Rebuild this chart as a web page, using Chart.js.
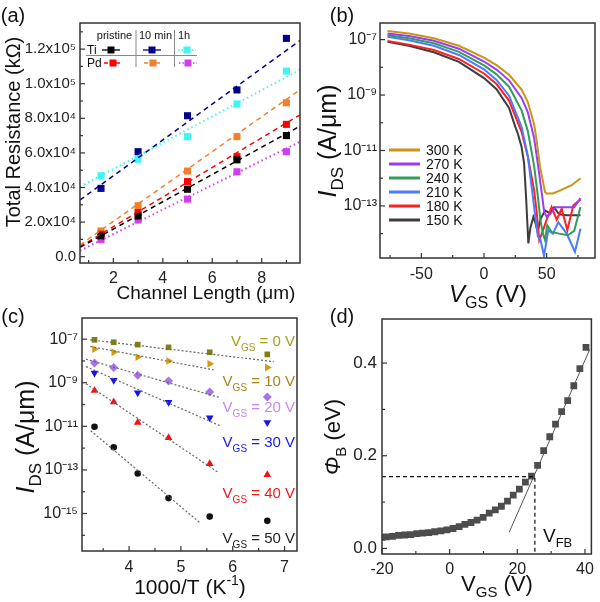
<!DOCTYPE html>
<html>
<head>
<meta charset="utf-8">
<script src="https://cdn.jsdelivr.net/npm/chart.js@4.4.1/dist/chart.umd.min.js"></script>
<style>
  body { margin: 0; background: #fff; }
  #fig { position: relative; width: 600px; height: 602px; }
  #fig canvas { position: absolute; left: 0; top: 0; }
</style>
</head>
<body>
<div id="fig">
  <canvas id="chartA" width="600" height="602"></canvas>
  <canvas id="chartB" width="600" height="602"></canvas>
  <canvas id="chartC" width="600" height="602"></canvas>
  <canvas id="chartD" width="600" height="602"></canvas>
</div>
<script>
const FONT = "'Liberation Sans', Arial, sans-serif";

// (a) total resistance vs channel length
const channelLength = [1.5, 3, 5, 7, 9];
const tiPristine = [12000, 23500, 39000, 56000, 70000];
const ti10min = [39500, 60700, 81500, 96400, 126200];
const ti1h = [46800, 56300, 69400, 88300, 107300];
const pdPristine = [13000, 25500, 43400, 57800, 76500];
const pd10min = [14900, 29500, 49500, 69400, 89000];
const pd1h = [10000, 21200, 33300, 49100, 60700];
const fitLengthA = [0.65, 9.55];
const fitTiPristine = [5400, 75500];
const fitTi10min = [32800, 125000];
const fitTi1h = [40500, 108000];
const fitPdPristine = [5800, 82000];
const fitPd10min = [6800, 96500];
const fitPd1h = [3500, 66500];
const xTicksA = [2, 4, 6, 8];
const xMinorA = [1, 3, 5, 7, 9];
const yTicksA = [0, 20000, 40000, 60000, 80000, 100000, 120000];
const yLabelsA = ['0.0', '2.0x10⁴', '4.0x10⁴', '6.0x10⁴', '8.0x10⁴', '1.0x10⁵', '1.2x10⁵'];
const yMinorA = [10000, 30000, 50000, 70000, 90000, 110000, 130000];

// (b) transfer curves at several temperatures
const tempLabels = ['300 K', '270 K', '240 K', '210 K', '180 K', '150 K'];
const vgs300 = [-77, -60, -40, -20, 0, 10, 20, 30, 35, 40, 42, 44.7, 47, 48.7, 50, 55, 60, 70, 77];
const ids300 = [2.04e-7, 1.66e-7, 1.12e-7, 6.0e-8, 2.24e-8, 1.2e-8, 5.4e-9, 1.58e-9, 5.6e-10, 8.9e-11, 2.3e-11, 2.6e-12, 7.9e-13, 3.2e-13, 2.8e-13, 2.8e-13, 3.5e-13, 5.6e-13, 1.0e-12];
const vgs270 = [-77, -60, -40, -20, 0, 10, 20, 30, 35, 40, 43, 46, 48, 50, 53, 57, 65, 72, 77];
const ids270 = [1.66e-7, 1.35e-7, 9.1e-8, 4.7e-8, 1.62e-8, 8.3e-9, 3.4e-9, 7.9e-10, 2.4e-10, 2.8e-11, 3.2e-12, 3.2e-13, 6.3e-14, 4.0e-14, 5.2e-14, 8.9e-14, 8.9e-14, 8.9e-14, 1.9e-13];
const vgs240 = [-77, -60, -40, -20, 0, 10, 20, 30, 35, 40, 43, 45, 47, 48.7, 50.5, 54, 60, 67, 72, 77];
const ids240 = [1.45e-7, 1.12e-7, 7.4e-8, 3.6e-8, 1.17e-8, 5.6e-9, 2.0e-9, 2.8e-10, 5.0e-11, 2.8e-12, 2.2e-13, 3.2e-14, 1.0e-14, 5.8e-15, 2.0e-14, 1.15e-14, 1.0e-14, 8.7e-15, 1.26e-14, 9.1e-14];
const vgs210 = [-77, -60, -40, -20, 0, 10, 20, 30, 35, 38, 41, 43, 45, 47.9, 51.3, 55, 59.3, 66, 72.6, 77];
const ids210 = [1.26e-7, 9.5e-8, 6.0e-8, 2.8e-8, 8.5e-9, 3.5e-9, 9.5e-10, 7.1e-11, 6.3e-12, 5.0e-13, 4.0e-14, 7.9e-15, 6.3e-15, 1.58e-15, 1.32e-14, 1.0e-14, 2.6e-14, 1.0e-14, 2.2e-15, 1.5e-14];
const vgs180 = [-77, -60, -40, -20, 0, 10, 20, 30, 35, 40, 42, 44.1, 47, 50, 54, 58, 62, 66.5, 71.3, 77];
const ids180 = [8.9e-8, 6.6e-8, 4.2e-8, 2.0e-8, 6.0e-9, 2.5e-9, 6.3e-10, 4.7e-11, 5.9e-12, 3.7e-13, 6.3e-14, 5.8e-15, 1.26e-14, 3.2e-14, 9.1e-14, 3.2e-14, 7.9e-14, 1.32e-14, 1.05e-13, 1.7e-13];
const vgs150 = [-77, -60, -40, -20, 0, 10, 20, 25, 27, 30, 32, 33.5, 35.4, 37, 39.4, 41, 42.8, 45, 48.7, 52, 56, 60, 66, 72, 77];
const ids150 = [8.3e-8, 6.0e-8, 3.5e-8, 1.58e-8, 4.1e-9, 1.62e-9, 3.4e-10, 7.1e-11, 4.1e-11, 1.35e-11, 3.4e-12, 2.5e-13, 4.4e-15, 1.58e-14, 4.0e-14, 2.5e-14, 1.15e-14, 3.2e-14, 6.9e-14, 5.6e-14, 8.9e-14, 5.0e-14, 4.6e-14, 4.6e-14, 4.6e-14];
const xTicksB = [-50, 0, 50];
const xMinorB = [-75, -25, 25, 75];
const yTicksB = [1e-7, 1e-9, 1e-11, 1e-13];
const yLabelsB = ['10⁻⁷', '10⁻⁹', '10⁻¹¹', '10⁻¹³'];
const yMinorB = [1e-8, 1e-10, 1e-12, 1e-14];

// (c) Arrhenius plot
const invTemp = [3.333, 3.704, 4.167, 4.762, 5.556, 6.667];
const idsVgs0 = [9.3e-8, 7.2e-8, 5.6e-8, 4.2e-8, 2.5e-8, 2.0e-8];
const idsVgs10 = [3.5e-8, 2.5e-8, 1.5e-8, 1.0e-8, 7.4e-9, 5.0e-9];
const idsVgs20 = [8.1e-9, 5.0e-9, 2.2e-9, 1.2e-9, 3.8e-10, 2.2e-10];
const idsVgs30 = [2.8e-9, 1.3e-9, 3.5e-10, 1.26e-10, 2.5e-11, 1.5e-11];
const idsVgs40 = [4.4e-10, 1.3e-10, 1.5e-11, 3.0e-12, 1.9e-13, 6.0e-14];
const idsVgs50 = [9.5e-12, 1.1e-12, 6.9e-14, 5.1e-15, 7.2e-16, 4.6e-16];
const fitInvT0 = [3.25, 6.79], fitIds0 = [9.3e-8, 9.3e-9];
const fitInvT10 = [3.25, 5.63], fitIds10 = [4.6e-8, 3.9e-9];
const fitInvT20 = [3.17, 5.75], fitIds20 = [1.2e-8, 2.1e-10];
const fitInvT30 = [3.17, 5.76], fitIds30 = [5.5e-9, 1.05e-11];
const fitInvT40 = [3.17, 5.73], fitIds40 = [8.9e-10, 7.4e-14];
const fitInvT50 = [3.26, 5.37], fitIds50 = [6.3e-12, 3.7e-16];
const vgsLabelsC = ['0', '10', '20', '30', '40', '50'];
const xTicksC = [4, 5, 6, 7];
const xMinorC = [3.5, 4.5, 5.5, 6.5];
const yTicksC = [1e-7, 1e-9, 1e-11, 1e-13, 1e-15];
const yLabelsC = ['10⁻⁷', '10⁻⁹', '10⁻¹¹', '10⁻¹³', '10⁻¹⁵'];
const yMinorC = [1e-8, 1e-10, 1e-12, 1e-14, 1e-16];

// (d) barrier height vs gate voltage
const vgsD = [-20, -18.7, -16.9, -15.1, -13.3, -11.5, -9.7, -8.0, -6.2, -4.4, -2.6, -0.8, 1.0, 2.8, 4.5, 6.3, 8.1, 9.9, 11.7, 13.5, 15.3, 17.1, 18.8, 20.6, 22.4, 24.2, 26.0, 27.8, 29.6, 31.3, 33.1, 34.9, 36.7, 38.5, 40.3];
const phiB = [0.024, 0.025, 0.026, 0.028, 0.029, 0.030, 0.032, 0.033, 0.034, 0.036, 0.038, 0.040, 0.043, 0.047, 0.052, 0.056, 0.061, 0.067, 0.076, 0.083, 0.091, 0.102, 0.115, 0.128, 0.143, 0.156, 0.179, 0.211, 0.241, 0.268, 0.295, 0.319, 0.351, 0.388, 0.434];
const fitVgsD = [17.6, 41.4], fitPhiD = [0.035, 0.429];
const flatBandX = [-20, 25.2, 25.2], flatBandY = [0.155, 0.155, -0.012];
const xTicksD = [-20, 0, 20, 40];
const xMinorD = [-10, 10, 30];
const yTicksD = [0, 0.2, 0.4];
const yLabelsD = ['0.0', '0.2', '0.4'];
const yMinorD = [0.1, 0.3];

const pts = (xs, ys) => xs.map((x, i) => ({ x: x, y: ys[i] }));

// text with italic / sub / sup parts, (x,y) = centre of the capitals
function rich(ctx, parts, x, y, size, align, vertical, color) {
  ctx.save();
  ctx.translate(x, y);
  if (vertical) ctx.rotate(-Math.PI / 2);
  ctx.fillStyle = color || '#111';
  ctx.textAlign = 'left';
  ctx.textBaseline = 'alphabetic';
  const fontOf = p => (p.i ? 'italic ' : '') + Math.round(p.s ? size * 0.66 : size) + 'px ' + FONT;
  let w = 0;
  parts.forEach(p => { ctx.font = fontOf(p); w += ctx.measureText(p.t).width; });
  let cx = align === 'center' ? -w / 2 : align === 'right' ? -w : 0;
  parts.forEach(p => {
    ctx.font = fontOf(p);
    const dy = p.s === 'sub' ? size * 0.28 : p.s === 'sup' ? -size * 0.42 : 0;
    ctx.fillText(p.t, cx, size * 0.36 + dy);
    cx += ctx.measureText(p.t).width;
  });
  ctx.restore();
}

// box frame plus inward ticks
const framePlugin = {
  id: 'frame',
  afterDraw(chart, args, o) {
    const { ctx, chartArea: a } = chart;
    const sx = chart.scales.x, sy = chart.scales.y;
    ctx.save();
    ctx.strokeStyle = '#333';
    ctx.lineWidth = 1.5;
    ctx.strokeRect(a.left, a.top, a.right - a.left, a.bottom - a.top);
    ctx.lineWidth = 1.2;
    const seg = (x1, y1, x2, y2) => { ctx.beginPath(); ctx.moveTo(x1, y1); ctx.lineTo(x2, y2); ctx.stroke(); };
    o.xMajor.forEach(v => { const p = sx.getPixelForValue(v); seg(p, a.bottom, p, a.bottom - 5); });
    o.xMinor.forEach(v => { const p = sx.getPixelForValue(v); seg(p, a.bottom, p, a.bottom - 3); });
    o.yMajor.forEach(v => { const p = sy.getPixelForValue(v); seg(a.left, p, a.left + 5, p); });
    o.yMinor.forEach(v => { const p = sy.getPixelForValue(v); seg(a.left, p, a.left + 3, p); });
    ctx.restore();
  }
};

function axis(type, min, max, major, labels, pad, size) {
  return {
    type: type, min: min, max: max,
    grid: { display: false, drawTicks: false },
    border: { display: false },
    afterBuildTicks: s => { s.ticks = major.map(v => ({ value: v })); },
    ticks: {
      autoSkip: false, maxRotation: 0, padding: pad, color: '#222',
      font: { size: size, family: FONT },
      callback: (v, i) => labels[i]
    }
  };
}

// area = [left, top, right, bottom] of the plot box in page pixels
function baseOptions(area, xs, ys, frame) {
  const band = 40;
  xs.afterFit = s => { s.height = band; };
  ys.afterFit = s => { s.width = area[0]; };
  return {
    responsive: false, animation: false, devicePixelRatio: 1,
    layout: { padding: { left: 0, top: area[1], right: 600 - area[2], bottom: 602 - area[3] - band } },
    plugins: { legend: { display: false }, tooltip: { enabled: false }, frame: frame },
    scales: { x: xs, y: ys }
  };
}

function fitLine(xs, ys, color, dash, width) {
  return { data: pts(xs, ys), showLine: true, pointRadius: 0, borderColor: color, borderWidth: width || 1.5, borderDash: dash, fill: false };
}
function marks(xs, ys, color, style, r, rot) {
  return { data: pts(xs, ys), showLine: false, pointStyle: style, pointRadius: r, pointRotation: rot || 0, backgroundColor: color, borderColor: color, borderWidth: 0 };
}

// ---------- (a)
const colorsA = { tiP: '#000000', ti10: '#00008c', ti1h: '#3ff5f5', pdP: '#ff0000', pd10: '#f0802e', pd1h: '#d23cf0' };
const DASH = [5, 4], DOT = [1.5, 3];
new Chart(document.getElementById('chartA'), {
  type: 'scatter',
  data: { datasets: [
    fitLine(fitLengthA, fitTiPristine, colorsA.tiP, DASH),
    fitLine(fitLengthA, fitTi10min, colorsA.ti10, DASH),
    fitLine(fitLengthA, fitTi1h, colorsA.ti1h, DOT, 2),
    fitLine(fitLengthA, fitPdPristine, colorsA.pdP, DASH),
    fitLine(fitLengthA, fitPd10min, colorsA.pd10, DASH),
    fitLine(fitLengthA, fitPd1h, colorsA.pd1h, DOT, 2),
    marks(channelLength, tiPristine, colorsA.tiP, 'rect', 5),
    marks(channelLength, ti10min, colorsA.ti10, 'rect', 5),
    marks(channelLength, ti1h, colorsA.ti1h, 'rect', 5),
    marks(channelLength, pdPristine, colorsA.pdP, 'rect', 5),
    marks(channelLength, pd10min, colorsA.pd10, 'rect', 5),
    marks(channelLength, pd1h, colorsA.pd1h, 'rect', 5)
  ] },
  options: baseOptions([80, 23, 300, 263],
    axis('linear', 0.65, 9.55, xTicksA, xTicksA.map(String), 6, 16),
    axis('linear', -3640, 135100, yTicksA, yLabelsA, 4, 15),
    { xMajor: xTicksA, xMinor: xMinorA, yMajor: yTicksA, yMinor: yMinorA }),
  plugins: [framePlugin, {
    id: 'annotA',
    afterDraw(chart) {
      const ctx = chart.ctx;
      rich(ctx, [{ t: '(a)' }], 13, 15, 20, 'center');
      rich(ctx, [{ t: 'Total Resistance (kΩ)' }], 13, 132, 20, 'center', true);
      rich(ctx, [{ t: 'Channel Length (μm)' }], 206, 292, 19, 'center');
      // table legend
      ctx.save();
      ctx.strokeStyle = '#888'; ctx.lineWidth = 1;
      [[136, 30, 136, 67], [174.5, 30, 174.5, 67], [86, 55.5, 197, 55.5]].forEach(l => {
        ctx.beginPath(); ctx.moveTo(l[0], l[1]); ctx.lineTo(l[2], l[3]); ctx.stroke();
      });
      ctx.restore();
      rich(ctx, [{ t: 'pristine' }], 114.5, 35, 11, 'center');
      rich(ctx, [{ t: '10 min' }], 155.5, 35, 11, 'center');
      rich(ctx, [{ t: '1h' }], 184, 35, 11, 'center');
      rich(ctx, [{ t: 'Ti' }], 87, 49.5, 12, 'left');
      rich(ctx, [{ t: 'Pd' }], 87, 63, 12, 'left');
      const legendMark = (x, y, color, dash) => {
        ctx.save();
        ctx.strokeStyle = color; ctx.lineWidth = 1.3; ctx.setLineDash(dash);
        ctx.beginPath(); ctx.moveTo(x - 9, y); ctx.lineTo(x + 9, y); ctx.stroke();
        ctx.setLineDash([]); ctx.fillStyle = color; ctx.fillRect(x - 3.5, y - 3.5, 7, 7);
        ctx.restore();
      };
      legendMark(111, 50, colorsA.tiP, []);
      legendMark(152, 50, colorsA.ti10, []);
      legendMark(187, 50, colorsA.ti1h, [1.5, 2]);
      legendMark(113, 63, colorsA.pdP, [4, 2]);
      legendMark(153, 63, colorsA.pd10, [4, 2]);
      legendMark(188, 63, colorsA.pd1h, [1.5, 2]);
    }
  }]
});

// ---------- (b)
const colorsB = ['#cc9414', '#9b3cf5', '#2e9e5a', '#4d7bff', '#ff2020', '#3c3c3c'];
const curvesB = [[vgs300, ids300], [vgs270, ids270], [vgs240, ids240], [vgs210, ids210], [vgs180, ids180], [vgs150, ids150]];
new Chart(document.getElementById('chartB'), {
  type: 'scatter',
  data: { datasets: curvesB.map((c, i) => fitLine(c[0], c[1], colorsB[i], [], 2)) },
  options: baseOptions([380, 23, 595, 258],
    axis('linear', -83, 88.6, xTicksB, xTicksB.map(String), 7, 16),
    axis('logarithmic', Math.pow(10, -14.88), Math.pow(10, -6.4), yTicksB, yLabelsB, 3, 16),
    { xMajor: xTicksB, xMinor: xMinorB, yMajor: yTicksB, yMinor: yMinorB }),
  plugins: [framePlugin, {
    id: 'annotB',
    afterDraw(chart) {
      const ctx = chart.ctx;
      rich(ctx, [{ t: '(b)' }], 342, 15, 20, 'center');
      rich(ctx, [{ t: 'I', i: 1 }, { t: 'DS', s: 'sub' }, { t: ' (A/μm)' }], 327, 141, 25, 'center', true);
      rich(ctx, [{ t: 'V', i: 1 }, { t: 'GS', s: 'sub' }, { t: ' (V)' }], 488, 293, 24, 'center');
      tempLabels.forEach((t, i) => {
        const y = 150 + i * 14;
        ctx.save();
        ctx.strokeStyle = colorsB[i]; ctx.lineWidth = 3;
        ctx.beginPath(); ctx.moveTo(389, y); ctx.lineTo(420, y); ctx.stroke();
        ctx.restore();
        rich(ctx, [{ t: t }], 426, y, 14, 'left');
      });
    }
  }]
});

// ---------- (c)
const markC = [
  ['#7f7f14', 'rect', 4, 0], ['#d49a12', 'triangle', 4.5, 90], ['#a674e6', 'rectRot', 4.5, 0],
  ['#1414ee', 'triangle', 4.5, 180], ['#ee1414', 'triangle', 4.5, 0], ['#111111', 'circle', 3.3, 0]
];
const textColorsC = ['#a09e1e', '#a8841c', '#c48af0', '#1a1af0', '#f01a1a', '#222222'];
const idsC = [idsVgs0, idsVgs10, idsVgs20, idsVgs30, idsVgs40, idsVgs50];
const fitsC = [[fitInvT0, fitIds0], [fitInvT10, fitIds10], [fitInvT20, fitIds20], [fitInvT30, fitIds30], [fitInvT40, fitIds40], [fitInvT50, fitIds50]];
new Chart(document.getElementById('chartC'), {
  type: 'scatter',
  data: { datasets: fitsC.map(f => fitLine(f[0], f[1], '#666', [2, 2], 1.2))
    .concat(idsC.map((ys, i) => marks(invTemp, ys, markC[i][0], markC[i][1], markC[i][2], markC[i][3]))) },
  options: baseOptions([82, 318, 297, 551],
    axis('linear', 3.092, 7.24, xTicksC, xTicksC.map(String), 7, 16),
    axis('logarithmic', Math.pow(10, -16.72), Math.pow(10, -6.03), yTicksC, yLabelsC, 4, 16),
    { xMajor: xTicksC, xMinor: xMinorC, yMajor: yTicksC, yMinor: yMinorC }),
  plugins: [framePlugin, {
    id: 'annotC',
    afterDraw(chart) {
      const ctx = chart.ctx;
      rich(ctx, [{ t: '(c)' }], 13, 316, 20, 'center');
      rich(ctx, [{ t: 'I', i: 1 }, { t: 'DS', s: 'sub' }, { t: ' (A/μm)' }], 25, 437, 25, 'center', true);
      rich(ctx, [{ t: '1000/T (K' }, { t: '-1', s: 'sup' }, { t: ')' }], 190, 586, 21, 'center');
      const ys = [341, 381, 407, 442, 493, 538];
      vgsLabelsC.forEach((v, i) => {
        rich(ctx, [{ t: 'V' }, { t: 'GS', s: 'sub' }, { t: ' = ' + v + ' V' }], 295, ys[i], 15, 'right', false, textColorsC[i]);
      });
    }
  }]
});

// ---------- (d)
new Chart(document.getElementById('chartD'), {
  type: 'scatter',
  data: { datasets: [
    fitLine(flatBandX, flatBandY, '#111', [4, 3], 1.2),
    marks(vgsD, phiB, '#4d4d4d', 'rect', 4.8),
    fitLine(fitVgsD, fitPhiD, '#555', [], 1)
  ] },
  options: baseOptions([382, 319, 597, 554],
    axis('linear', -20, 41.9, xTicksD, xTicksD.map(String), 6, 16),
    axis('linear', -0.012, 0.495, yTicksD, yLabelsD, 5, 17),
    { xMajor: xTicksD, xMinor: xMinorD, yMajor: yTicksD, yMinor: yMinorD }),
  plugins: [framePlugin, {
    id: 'annotD',
    afterDraw(chart) {
      const ctx = chart.ctx;
      rich(ctx, [{ t: '(d)' }], 342, 316, 20, 'center');
      rich(ctx, [{ t: 'Φ', i: 1 }, { t: 'B', s: 'sub' }, { t: ' (eV)' }], 332, 437, 22, 'center', true);
      rich(ctx, [{ t: 'V' }, { t: 'GS', s: 'sub' }, { t: ' (V)' }], 497, 583, 22, 'center');
      rich(ctx, [{ t: 'V' }, { t: 'FB', s: 'sub' }], 543, 535, 19, 'left');
    }
  }]
});
</script>
</body>
</html>
